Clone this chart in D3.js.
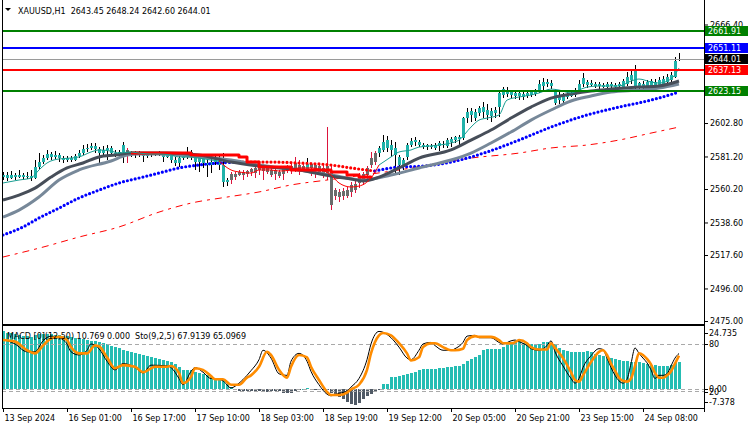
<!DOCTYPE html>
<html>
<head>
<meta charset="utf-8">
<title>XAUUSD,H1</title>
<script src="https://cdn.jsdelivr.net/npm/d3@7"></script>
<style>
  html, body { margin: 0; padding: 0; background: #fff; }
  svg { display: block; font-family: "DejaVu Sans", Verdana, sans-serif; font-size: 8px; }
</style>
</head>
<body>
<svg id="chart" width="750" height="430"></svg>
<script>
// ---- candles (H1, 170 bars) ----
var opens = [
  2567.9, 2569.2, 2567.3, 2569.2, 2567.9, 2569.2, 2567.9, 2568.6, 2567.3, 2574.4,
  2577.6, 2580.2, 2582.8, 2580.9, 2582.1, 2580.2, 2578.9, 2580.2, 2578.9, 2581.5,
  2583.4, 2586.0, 2586.7, 2588.0, 2586.0, 2583.4, 2585.4, 2586.7, 2583.4, 2582.8,
  2584.1, 2585.4, 2582.8, 2583.4, 2582.1, 2583.4, 2581.5, 2582.8, 2582.1, 2582.8,
  2583.4, 2580.9, 2582.1, 2578.9, 2577.0, 2580.2, 2580.9, 2584.1, 2580.9, 2577.6,
  2580.2, 2577.0, 2575.7, 2577.6, 2580.2, 2575.7, 2564.7, 2569.9, 2569.9, 2571.2,
  2571.2, 2571.8, 2573.1, 2573.8, 2575.0, 2574.4, 2573.8, 2572.5, 2572.5, 2571.2,
  2573.8, 2575.0, 2575.0, 2577.0, 2575.7, 2575.0, 2572.5, 2576.3, 2575.7, 2575.0,
  2573.8, 2575.0, 2571.2, 2559.5, 2558.3, 2558.9, 2559.5, 2562.8, 2563.4, 2568.6,
  2569.9, 2573.8, 2580.2, 2583.4, 2583.4, 2585.4, 2586.7, 2585.4, 2582.1, 2575.7,
  2574.4, 2580.9, 2588.6, 2590.5, 2588.6, 2587.3, 2588.6, 2587.3, 2586.7, 2588.0,
  2588.6, 2588.0, 2590.5, 2591.8, 2592.5, 2593.1, 2606.0, 2608.0, 2606.0, 2609.3,
  2609.9, 2608.0, 2607.3, 2609.3, 2613.1, 2620.9, 2621.5, 2620.9, 2620.2, 2620.2,
  2619.6, 2620.2, 2620.9, 2621.5, 2622.8, 2626.7, 2628.0, 2626.7, 2615.7, 2617.7,
  2617.0, 2619.6, 2620.2, 2620.9, 2623.5, 2628.0, 2627.3, 2627.3, 2626.7, 2626.7,
  2626.0, 2626.0, 2626.7, 2626.0, 2626.7, 2625.4, 2628.0, 2630.6, 2625.4, 2626.0,
  2625.4, 2626.0, 2626.7, 2627.3, 2626.7, 2628.0, 2629.3, 2630.6, 2632.5, 2643.45
];
var highs = [
  2571.2, 2571.2, 2571.8, 2570.5, 2572.5, 2570.5, 2571.2, 2572.5, 2578.9, 2583.4,
  2582.1, 2585.4, 2584.1, 2584.7, 2583.4, 2581.5, 2581.5, 2581.5, 2582.8, 2585.4,
  2588.6, 2589.2, 2589.9, 2589.9, 2587.3, 2588.0, 2588.6, 2588.0, 2585.4, 2585.4,
  2590.5, 2586.7, 2584.7, 2584.7, 2584.7, 2584.1, 2584.1, 2584.1, 2584.1, 2584.7,
  2584.1, 2584.1, 2582.8, 2580.9, 2582.1, 2582.8, 2587.3, 2585.4, 2581.5, 2582.1,
  2582.1, 2582.1, 2580.2, 2582.8, 2581.5, 2583.4, 2567.3, 2571.2, 2571.2, 2572.5,
  2572.5, 2572.5, 2573.8, 2574.4, 2575.7, 2575.0, 2574.4, 2573.8, 2573.1, 2572.5,
  2574.4, 2575.7, 2577.0, 2580.9, 2578.9, 2576.3, 2580.2, 2577.0, 2577.0, 2576.3,
  2575.7, 2600.2, 2575.0, 2560.8, 2560.2, 2560.8, 2561.5, 2564.7, 2566.0, 2570.5,
  2571.2, 2575.0, 2584.1, 2584.7, 2587.9, 2595.1, 2594.4, 2591.8, 2590.5, 2582.1,
  2580.2, 2589.9, 2593.1, 2593.8, 2591.8, 2589.9, 2589.2, 2589.2, 2589.9, 2591.2,
  2591.2, 2593.1, 2593.8, 2594.4, 2595.0, 2606.7, 2612.5, 2612.5, 2611.8, 2613.8,
  2616.4, 2615.1, 2612.5, 2613.1, 2622.8, 2626.0, 2626.0, 2624.1, 2623.5, 2623.5,
  2622.8, 2623.5, 2624.1, 2624.8, 2630.6, 2631.9, 2631.2, 2630.6, 2624.8, 2622.8,
  2622.2, 2622.8, 2623.5, 2625.4, 2630.6, 2635.1, 2630.6, 2630.6, 2629.3, 2629.3,
  2628.6, 2629.3, 2629.3, 2628.6, 2629.3, 2631.2, 2635.7, 2637.0, 2640.2, 2629.3,
  2629.9, 2630.6, 2631.2, 2631.2, 2632.5, 2633.1, 2634.4, 2635.7, 2645.4, 2648.24
];
var lows = [
  2566.0, 2565.4, 2566.7, 2566.0, 2567.3, 2566.0, 2566.7, 2565.4, 2566.7, 2573.1,
  2576.3, 2578.9, 2578.9, 2579.6, 2577.6, 2577.0, 2577.6, 2577.6, 2578.3, 2580.2,
  2582.1, 2584.1, 2585.4, 2583.4, 2575.7, 2581.5, 2578.9, 2581.5, 2580.9, 2581.5,
  2577.0, 2577.0, 2580.9, 2580.2, 2580.9, 2577.6, 2580.2, 2580.9, 2581.5, 2581.5,
  2577.6, 2580.2, 2577.0, 2575.0, 2574.4, 2578.9, 2579.6, 2578.9, 2572.5, 2571.2,
  2573.8, 2567.9, 2570.5, 2575.7, 2572.5, 2561.5, 2562.1, 2563.4, 2566.0, 2568.6,
  2566.0, 2567.9, 2568.6, 2567.3, 2569.2, 2566.0, 2569.9, 2567.9, 2566.0, 2567.3,
  2566.0, 2570.5, 2569.9, 2571.2, 2569.2, 2571.2, 2571.8, 2568.6, 2567.3, 2569.9,
  2567.3, 2566.0, 2546.6, 2553.1, 2551.8, 2553.1, 2554.4, 2555.0, 2557.6, 2560.8,
  2562.8, 2566.0, 2573.8, 2575.7, 2580.9, 2584.1, 2584.1, 2580.9, 2570.5, 2569.2,
  2572.5, 2578.9, 2587.3, 2588.0, 2587.3, 2586.0, 2585.4, 2586.0, 2585.4, 2584.7,
  2586.7, 2586.7, 2587.3, 2589.9, 2587.9, 2591.8, 2602.8, 2603.5, 2604.1, 2607.3,
  2606.0, 2604.7, 2603.5, 2606.0, 2606.7, 2618.9, 2619.6, 2618.9, 2618.3, 2617.7,
  2617.7, 2618.9, 2619.6, 2620.2, 2622.2, 2623.5, 2626.0, 2624.8, 2614.4, 2615.1,
  2615.1, 2618.3, 2619.6, 2619.6, 2622.2, 2626.0, 2625.4, 2626.0, 2625.4, 2624.8,
  2625.4, 2624.8, 2625.4, 2625.4, 2624.8, 2624.8, 2626.7, 2628.0, 2624.1, 2624.8,
  2624.1, 2624.1, 2624.8, 2624.1, 2625.4, 2626.0, 2627.3, 2628.6, 2631.9, 2642.60
];
var closes = [
  2569.2, 2567.3, 2569.2, 2567.9, 2569.2, 2567.9, 2568.6, 2567.3, 2574.4, 2577.6,
  2580.2, 2582.8, 2580.9, 2582.1, 2580.2, 2578.9, 2580.2, 2578.9, 2581.5, 2583.4,
  2586.0, 2586.7, 2588.0, 2586.0, 2583.4, 2585.4, 2586.7, 2583.4, 2582.8, 2584.1,
  2588.6, 2582.8, 2583.4, 2582.1, 2583.4, 2581.5, 2582.8, 2582.1, 2582.8, 2583.4,
  2580.9, 2582.1, 2578.9, 2577.0, 2580.2, 2580.9, 2584.1, 2580.9, 2577.6, 2580.2,
  2577.0, 2575.7, 2577.6, 2580.2, 2575.7, 2564.7, 2566.0, 2566.0, 2567.9, 2569.2,
  2569.2, 2569.9, 2571.2, 2570.5, 2572.5, 2571.8, 2571.2, 2569.2, 2569.9, 2568.6,
  2569.9, 2571.8, 2572.5, 2573.8, 2572.5, 2572.5, 2576.3, 2573.8, 2572.5, 2571.2,
  2569.2, 2570.5, 2549.9, 2555.7, 2555.0, 2555.7, 2555.7, 2558.3, 2559.5, 2564.1,
  2566.0, 2569.2, 2575.7, 2577.6, 2586.7, 2590.5, 2591.8, 2588.6, 2586.7, 2580.9,
  2578.9, 2588.6, 2591.2, 2591.8, 2590.5, 2588.6, 2587.3, 2588.0, 2588.6, 2589.9,
  2589.2, 2591.8, 2592.5, 2593.8, 2593.8, 2606.0, 2609.9, 2610.6, 2609.9, 2612.5,
  2613.1, 2611.2, 2610.6, 2611.2, 2622.2, 2624.8, 2623.5, 2622.8, 2622.2, 2622.2,
  2621.5, 2622.2, 2622.8, 2623.5, 2628.0, 2629.3, 2629.3, 2628.6, 2623.5, 2620.2,
  2620.9, 2621.5, 2622.2, 2624.1, 2628.0, 2631.9, 2629.3, 2628.6, 2628.0, 2628.0,
  2627.3, 2628.0, 2628.0, 2627.3, 2628.0, 2629.9, 2632.5, 2633.8, 2637.0, 2628.6,
  2628.0, 2629.3, 2629.9, 2629.3, 2630.6, 2631.2, 2632.5, 2633.8, 2642.8, 2644.01
];
// bar ranges drawn as bearish-trend candles (gray body, crimson wick)
var grayRuns = [[31, 31], [57, 75], [77, 93]];

// moving averages, [bar, price]
var fastMA = [[0,2564.1],[4,2566.0],[7,2567.3],[9,2572.5],[11,2577.0],[14,2579.6],[17,2580.2],[19,2580.9],[22,2584.1],[24,2585.4],[27,2584.7],[29,2583.4],[32,2584.1],[34,2583.4],[37,2582.8],[39,2582.8],[42,2582.1],[44,2580.9],[47,2580.9],[49,2580.2],[52,2578.9],[54,2578.3],[57,2572.5],[59,2571.2],[62,2570.5],[64,2572.5],[67,2572.5],[69,2571.8],[72,2572.5],[74,2573.8],[77,2573.8],[79,2573.1],[82,2569.2],[84,2564.1],[87,2561.5],[89,2562.1],[92,2567.3],[94,2575.7],[97,2580.9],[99,2584.1],[102,2585.4],[104,2587.3],[107,2588.0],[109,2588.6],[112,2589.9],[114,2591.8],[117,2600.2],[119,2604.7],[121,2606.0],[124,2608.0],[126,2617.6],[129,2619.6],[132,2620.9],[134,2622.2],[137,2624.7],[139,2624.1],[142,2622.2],[144,2624.1],[146,2626.0],[149,2626.7],[152,2626.7],[154,2626.7],[157,2629.9],[159,2631.2],[162,2629.3],[164,2628.6],[167,2631.2],[169,2638.3]];
var midMA = [[0,2553.1],[4,2556.3],[8,2560.8],[12,2567.9],[16,2573.8],[20,2577.0],[24,2580.9],[28,2582.1],[32,2583.4],[41,2583.4],[49,2582.1],[57,2577.6],[64,2575.0],[74,2572.5],[82,2568.6],[87,2566.6],[90,2565.4],[94,2567.9],[99,2573.8],[104,2580.2],[112,2585.4],[117,2591.8],[122,2598.3],[127,2606.0],[132,2613.1],[137,2618.9],[142,2621.5],[147,2623.5],[152,2624.7],[159,2626.0],[164,2626.7],[169,2629.9]];
var slowMA = [[0,2542.1],[4,2546.6],[9,2555.0],[14,2566.0],[19,2572.5],[27,2578.3],[31,2582.1],[34,2582.8],[39,2582.8],[49,2580.9],[57,2578.9],[64,2575.7],[74,2572.5],[82,2569.2],[90,2566.0],[97,2569.2],[104,2573.8],[112,2578.9],[117,2583.4],[122,2589.9],[127,2597.0],[132,2604.7],[137,2611.2],[142,2617.0],[147,2620.2],[152,2622.8],[159,2624.1],[164,2625.4],[169,2628.0]];
var trendLine = [[32,2583.4],[40,2583.4],[47,2582.1],[59,2580.9],[61,2577.6],[64,2574.4],[72,2572.5],[82,2571.2],[86,2569.2],[89,2567.9],[92,2567.3]];
var dotMA = [[0,2530.5],[5,2535.7],[9,2541.5],[14,2547.9],[19,2554.4],[24,2559.5],[29,2564.1],[34,2567.3],[39,2570.5],[44,2573.8],[49,2575.7],[54,2577.0],[59,2577.6],[67,2577.6],[74,2577.0],[82,2575.7],[87,2573.8],[93,2571.8],[99,2574.4],[105,2575.0],[112,2577.6],[121,2584.1],[129,2591.8],[137,2600.2],[146,2608.0],[154,2613.1],[162,2617.6],[169,2622.8]];
var longMA = [[0,2516.3],[10,2522.7],[19,2529.2],[29,2535.7],[39,2545.3],[47,2551.1],[56,2555.0],[64,2558.3],[72,2562.8],[81,2566.0],[99,2572.5],[117,2580.2],[129,2583.4],[137,2586.7],[146,2588.6],[154,2591.8],[162,2596.3],[169,2600.2]];

// horizontal levels
var levelPrices = [2661.91, 2651.11, 2644.01, 2637.13, 2623.15];
var levelColors = ['#008000', '#0000ff', '#000000', '#ff0000', '#008000'];
var priceTicks = [2666.40, 2602.80, 2581.20, 2560.20, 2538.60, 2517.60, 2496.00, 2475.00];

// MACD histogram (one per bar)
var macdHist = [
  23.0, 22.5, 22.3, 22.0, 21.6, 21.3, 21.0, 20.8, 21.5, 21.8,
  22.0, 22.0, 21.8, 21.6, 21.5, 21.2, 21.0, 20.7, 20.3, 20.0,
  19.8, 19.5, 19.2, 19.0, 18.7, 18.2, 17.8, 17.4, 17.0, 16.4,
  15.8, 15.3, 14.8, 14.3, 13.9, 13.5, 13.1, 12.7, 12.4, 12.1,
  11.8, 11.4, 10.8, 10.0, 8.8, 7.8, 7.5, 7.6, 7.0, 6.6,
  6.0, 5.6, 5.0, 4.6, 4.2, 3.6, 2.0, 1.0, -0.3, -0.5,
  -0.6, -0.8, -0.6, -0.5, -0.6, -0.7, -0.9, -0.8, -0.6, -0.8,
  -1.4, -1.6, -1.5, -0.8, -0.4, 0.3, 0.4, 0.2, -0.2, -0.3,
  -0.2, -0.4, -1.5, -2.4, -3.2, -4.0, -5.0, -5.8, -6.3, -5.2,
  -4.0, -2.8, -1.8, -1.0, -0.4, 2.0, 2.2, 4.8, 5.0, 5.2,
  5.6, 6.0, 6.4, 6.8, 7.6, 8.0, 8.0, 8.0, 8.0, 8.3,
  8.5, 8.7, 9.0, 9.2, 9.4, 10.0, 11.2, 12.0, 12.8, 13.6,
  15.5, 16.0, 16.0, 16.0, 16.2, 17.0, 18.0, 18.8, 19.2, 19.2,
  18.5, 18.0, 17.8, 17.8, 18.0, 18.7, 18.8, 18.2, 17.9, 16.5,
  15.8, 15.2, 14.8, 14.8, 14.8, 15.0, 15.2, 15.0, 14.2, 13.8,
  13.4, 13.0, 12.5, 12.2, 11.8, 11.4, 11.2, 11.0, 10.8, 10.8,
  10.4, 10.0, 9.8, 9.6, 9.4, 9.4, 9.4, 9.8, 10.3, 10.769
];
// stochastic, [bar, value]
var stochK = [[0,86],[3,80],[6,70],[8,70],[10,84],[12,90],[14,88],[16,80],[17,70],[19,66],[21,72],[22,80],[24,74],[26,58],[28,47],[30,55],[33,50],[35,43],[37,53],[41,52],[42,50],[44,36],[45,28],[47,45],[48,50],[50,44],[52,36],[53,36],[55,33],[57,24],[59,30],[61,40],[62,46],[64,60],[65,72],[67,62],[69,42],[71,40],[72,58],[74,68],[76,58],[77,45],[79,28],[81,16],[82,14],[84,17],[86,20],[87,25],[89,36],[91,60],[92,80],[94,96],[95,95],[97,88],[99,76],[101,62],[102,60],[104,72],[105,80],[107,82],[108,78],[110,72],[112,72],[113,74],[115,82],[116,90],[118,91],[119,88],[122,88],[124,82],[125,80],[127,84],[128,85],[129,83],[131,78],[132,74],[134,72],[136,78],[137,84],[138,70],[140,52],[142,36],[143,30],[144,36],[145,50],[147,65],[149,74],[150,73],[151,62],[152,50],[153,40],[154,33],[155,30],[156,35],[157,55],[158,75],[159,68],[160,62],[161,56],[162,47],[163,36],[164,40],[165,40],[166,42],[167,52],[168,62],[169,67.9139]];
var stochD = [[0,85],[3,83],[6,72],[8,68],[10,78],[12,87],[14,89],[16,85],[17,76],[19,68],[21,68],[23,78],[24,77],[26,63],[28,49],[30,53],[33,51],[35,44],[38,51],[41,51],[42,52],[44,43],[45,30],[47,38],[48,49],[50,47],[52,39],[53,35],[55,35],[57,28],[59,28],[61,37],[62,40],[64,51],[66,70],[67,66],[69,47],[71,37],[72,51],[74,66],[76,63],[77,51],[79,34],[81,19],[82,15],[84,15],[86,18],[87,22],[89,28],[91,47],[92,68],[94,91],[95,94],[97,91],[99,81],[101,68],[102,59],[104,63],[105,76],[107,81],[108,81],[110,76],[112,72],[113,72],[115,74],[116,85],[118,90],[119,89],[122,89],[124,85],[125,81],[127,81],[128,82],[129,85],[131,81],[132,76],[134,73],[136,73],[137,81],[138,75],[140,62],[142,44],[143,34],[144,32],[145,40],[147,57],[149,70],[150,72],[151,66],[152,55],[153,46],[154,37],[155,33],[156,32],[157,36],[158,52],[159,68],[160,66],[161,61],[162,54],[163,43],[164,37],[165,37],[166,40],[167,45],[168,55],[169,65.0969]];

// time axis
var timeBars = [0, 16, 32, 48, 64, 80, 96, 112, 128, 144, 160];
var timeLabels = ['13 Sep 2024', '16 Sep 01:00', '16 Sep 17:00', '17 Sep 10:00', '18 Sep 03:00',
  '18 Sep 19:00', '19 Sep 12:00', '20 Sep 05:00', '20 Sep 21:00', '23 Sep 15:00', '24 Sep 08:00'];

// ---- drawing ----
var FONT = '"DejaVu Sans", Verdana, sans-serif';
var svg = d3.select('#chart');
var plotRight = 704;

var x = d3.scaleLinear().domain([0, 169]).range([3, 679]);
var y = d3.scaleLinear().domain([2475, 2666.4]).range([321, 24.5]);
var yM = d3.scaleLinear().domain([-7.378, 24.735]).range([408, 327]);
var yS = d3.scaleLinear().domain([0, 100]).range([406.7, 328.3]);

var defs = svg.append('defs');
defs.append('clipPath').attr('id', 'clipMain').append('rect').attr('x', 2).attr('y', 0).attr('width', plotRight - 2).attr('height', 324);
defs.append('clipPath').attr('id', 'clipSub').append('rect').attr('x', 2).attr('y', 327).attr('width', plotRight - 2).attr('height', 81);

var main = svg.append('g').attr('clip-path', 'url(#clipMain)');
var sub = svg.append('g').attr('clip-path', 'url(#clipSub)');

var bars = d3.range(closes.length).map(function (i) {
  return {
    i: i, o: opens[i], h: highs[i], l: lows[i], c: closes[i],
    gray: grayRuns.some(function (r) { return i >= r[0] && i <= r[1]; })
  };
});

// wicks then bodies
main.append('g').attr('shape-rendering', 'crispEdges')
  .selectAll('line').data(bars).join('line')
  .attr('x1', function (d) { return x(d.i) + 0.5; })
  .attr('x2', function (d) { return x(d.i) + 0.5; })
  .attr('y1', function (d) { return y(d.h); })
  .attr('y2', function (d) { return y(d.l); })
  .attr('stroke', function (d) { return d.gray ? '#dc143c' : '#000'; });

main.append('g').attr('shape-rendering', 'crispEdges')
  .selectAll('rect').data(bars).join('rect')
  .attr('x', function (d) { return x(d.i) - 1; })
  .attr('width', 3)
  .attr('y', function (d) { return y(Math.max(d.o, d.c)); })
  .attr('height', function (d) { return Math.max(1, Math.abs(y(d.o) - y(d.c))); })
  .attr('fill', function (d) { return d.gray ? '#6b6b6b' : '#20b2aa'; });

function seg(arr, a, b) {
  return arr.filter(function (d) { return d[0] >= a && d[0] <= b; });
}
var priceLine = d3.line().x(function (d) { return x(d[0]); }).y(function (d) { return y(d[1]); }).curve(d3.curveMonotoneX);
var stepLine = d3.line().x(function (d) { return x(d[0]); }).y(function (d) { return y(d[1]); }).curve(d3.curveStepAfter);

function drawPath(g, data, gen, color, width, dash, cap) {
  g.append('path').datum(data).attr('d', gen)
    .attr('fill', 'none').attr('stroke', color).attr('stroke-width', width)
    .attr('stroke-dasharray', dash || null).attr('stroke-linecap', cap || 'butt')
    .attr('stroke-linejoin', 'round');
}

// long dash-dot MA
drawPath(main, longMA, priceLine, '#ff0000', 1, '7,5,3,5');
// dotted MA (blue, red while price is below)
drawPath(main, seg(dotMA, 0, 59), priceLine, '#0000ff', 3.2, '0,4', 'round');
drawPath(main, seg(dotMA, 59, 93), priceLine, '#ff0000', 3.2, '0,4', 'round');
drawPath(main, seg(dotMA, 93, 169), priceLine, '#0000ff', 3.2, '0,4', 'round');
// slow and mid thick MAs
drawPath(main, slowMA, priceLine, '#778899', 3);
drawPath(main, midMA, priceLine, '#474e59', 3);
// trend stop line
drawPath(main, trendLine, stepLine, '#ff0000', 3);
// fast thin MA
drawPath(main, seg(fastMA, 0, 54), priceLine, '#1a9e92', 1);
drawPath(main, seg(fastMA, 54, 94), priceLine, '#ff0000', 1);
drawPath(main, seg(fastMA, 94, 169), priceLine, '#1a9e92', 1);

// horizontal levels
var levels = levelPrices.map(function (p, k) { return { p: p, col: levelColors[k] }; });
main.append('g').attr('shape-rendering', 'crispEdges')
  .selectAll('line').data(levels).join('line')
  .attr('x1', 2).attr('x2', plotRight)
  .attr('y1', function (d) { return Math.round(y(d.p)); })
  .attr('y2', function (d) { return Math.round(y(d.p)); })
  .attr('stroke', function (d) { return d.col === '#000000' ? '#9a9a9a' : d.col; })
  .attr('stroke-width', function (d) { return d.col === '#000000' ? 1 : 2; });

// price axis
var yAxis = d3.axisRight(y).tickValues(priceTicks).tickSize(4).tickPadding(2)
  .tickFormat(d3.format('.2f'));
var gy = svg.append('g').attr('transform', 'translate(' + plotRight + ',0)').call(yAxis);
gy.select('.domain').remove();
gy.selectAll('text').attr('fill', '#000').style('font-size', '8px').style('font-family', FONT);
gy.selectAll('line').attr('stroke', '#000');

// level price boxes
var boxes = svg.append('g').selectAll('g').data(levels).join('g')
  .attr('transform', function (d) { return 'translate(705,' + Math.round(y(d.p)) + ')'; });
boxes.append('rect').attr('x', 0).attr('y', -5).attr('width', 43).attr('height', 10)
  .attr('fill', function (d) { return d.col; }).attr('shape-rendering', 'crispEdges');
boxes.append('text').attr('x', 3).attr('y', 3).attr('fill', '#fff')
  .text(function (d) { return d3.format('.2f')(d.p); });

// ---- MACD / Stochastic sub-window ----
var hist = macdHist.map(function (v, i) { return { i: i, v: v }; });
sub.append('g').attr('shape-rendering', 'crispEdges')
  .selectAll('rect').data(hist).join('rect')
  .attr('x', function (d) { return x(d.i) - 1; })
  .attr('width', 3)
  .attr('y', function (d) { return Math.min(yM(0), yM(d.v)); })
  .attr('height', function (d) { return Math.max(1, Math.abs(yM(d.v) - yM(0))); })
  .attr('fill', function (d) { return d.v >= 0 ? '#25bdb3' : '#505a66'; });

// level lines 80 / 20 and zero
[yS(80), yS(20), yM(0)].forEach(function (yy) {
  sub.append('line').attr('x1', 2).attr('x2', plotRight)
    .attr('y1', Math.round(yy) + 0.5).attr('y2', Math.round(yy) + 0.5)
    .attr('stroke', '#a9a9a9').attr('stroke-dasharray', '4,3');
});

var stLine = d3.line().x(function (d) { return x(d[0]); }).y(function (d) { return yS(d[1]); }).curve(d3.curveMonotoneX);
drawPath(sub, stochK, stLine, '#000', 1);
drawPath(sub, stochD, stLine, '#ff8c00', 2.6);

svg.append('text').attr('x', 7).attr('y', 339).attr('fill', '#000')
  .style('white-space', 'pre')
  .text('MACD [0](12,50) 10.769 0.000  Sto(9,2,5) 67.9139 65.0969');

// sub-window scale labels
var subLabels = [
  { t: '24.735', y: 333 }, { t: '80', y: yS(80) }, { t: '20', y: yS(20) + 1 },
  { t: '0.00', y: yM(0) }, { t: '-7.378', y: 402 }
];
svg.append('g').selectAll('text').data(subLabels).join('text')
  .attr('x', 709).attr('y', function (d) { return d.y + 3; })
  .attr('fill', '#000').text(function (d) { return d.t; });
svg.append('g').selectAll('line').data(subLabels).join('line')
  .attr('x1', plotRight).attr('x2', plotRight + 4)
  .attr('y1', function (d) { return Math.round(d.y) + 0.5; })
  .attr('y2', function (d) { return Math.round(d.y) + 0.5; })
  .attr('stroke', '#000');

// time axis
var xAxis = d3.axisBottom(x).tickValues(timeBars).tickSize(4).tickPadding(3)
  .tickFormat(function (d, k) { return timeLabels[k]; });
var gx = svg.append('g').attr('transform', 'translate(0,408)').call(xAxis);
gx.select('.domain').remove();
gx.selectAll('line').attr('stroke', '#000');
gx.selectAll('text').attr('fill', '#000').attr('text-anchor', 'start').attr('dx', 1)
  .style('font-size', '8px').style('font-family', FONT);

// frames
var frame = svg.append('g').attr('stroke', '#000').attr('fill', 'none').attr('shape-rendering', 'crispEdges');
frame.append('line').attr('x1', 2.5).attr('x2', 2.5).attr('y1', 0).attr('y2', 408);
frame.append('line').attr('x1', plotRight + 0.5).attr('x2', plotRight + 0.5).attr('y1', 0).attr('y2', 412);
frame.append('line').attr('x1', 2).attr('x2', plotRight + 1).attr('y1', 324.5).attr('y2', 324.5);
frame.append('line').attr('x1', 2).attr('x2', plotRight + 1).attr('y1', 325.5).attr('y2', 325.5);
frame.append('line').attr('x1', 2).attr('x2', plotRight + 1).attr('y1', 408.5).attr('y2', 408.5);

// title
svg.append('path').attr('d', 'M5,8 L11,8 L8,11 Z').attr('fill', '#000');
svg.append('text').attr('x', 18).attr('y', 14).attr('fill', '#000')
  .style('white-space', 'pre')
  .text('XAUUSD,H1  2643.45 2648.24 2642.60 2644.01');
</script>
</body>
</html>
